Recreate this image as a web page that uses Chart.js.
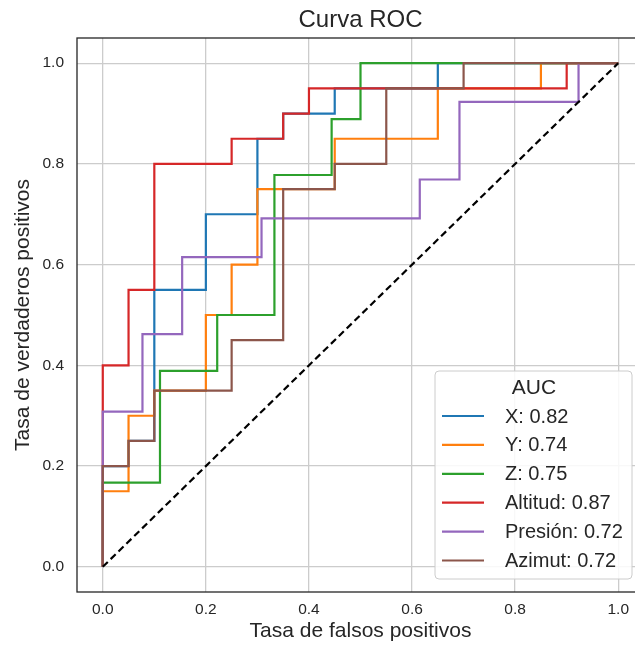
<!DOCTYPE html>
<html>
<head>
<meta charset="utf-8">
<script src="https://cdn.jsdelivr.net/npm/chart.js@4"></script>
<style>
  html, body { margin: 0; padding: 0; overflow: hidden; background: #fff; }
</style>
</head>
<body>
<canvas id="myChart" width="650" height="645"></canvas>
<script>
// ROC points (fpr, tpr)
var fprX = [0, 0, 0.05, 0.05, 0.1, 0.1, 0.2, 0.2, 0.3, 0.3, 0.35, 0.35, 0.45, 0.45, 0.65, 0.65, 1];
var tprX = [0, 0.2, 0.2, 0.25, 0.25, 0.55, 0.55, 0.7, 0.7, 0.85, 0.85, 0.9, 0.9, 0.95, 0.95, 1, 1];

var fprY = [0, 0, 0.05, 0.05, 0.1, 0.1, 0.2, 0.2, 0.25, 0.25, 0.3, 0.3, 0.45, 0.45, 0.65, 0.65, 0.85, 0.85, 1];
var tprY = [0, 0.15, 0.15, 0.3, 0.3, 0.35, 0.35, 0.5, 0.5, 0.6, 0.6, 0.75, 0.75, 0.85, 0.85, 0.95, 0.95, 1, 1];

var fprZ = [0, 0, 0.111, 0.111, 0.222, 0.222, 0.333, 0.333, 0.444, 0.444, 0.5, 0.5, 1];
var tprZ = [0, 0.167, 0.167, 0.389, 0.389, 0.5, 0.5, 0.778, 0.778, 0.889, 0.889, 1, 1];

var fprAltitud = [0, 0, 0.05, 0.05, 0.1, 0.1, 0.25, 0.25, 0.35, 0.35, 0.4, 0.4, 0.9, 0.9, 1];
var tprAltitud = [0, 0.4, 0.4, 0.55, 0.55, 0.8, 0.8, 0.85, 0.85, 0.9, 0.9, 0.95, 0.95, 1, 1];

var fprPresion = [0, 0, 0.077, 0.077, 0.154, 0.154, 0.308, 0.308, 0.615, 0.615, 0.692, 0.692, 0.923, 0.923, 1];
var tprPresion = [0, 0.308, 0.308, 0.462, 0.462, 0.615, 0.615, 0.692, 0.692, 0.769, 0.769, 0.923, 0.923, 1, 1];

var fprAzimut = [0, 0, 0.05, 0.05, 0.1, 0.1, 0.25, 0.25, 0.35, 0.35, 0.45, 0.45, 0.55, 0.55, 0.7, 0.7, 1];
var tprAzimut = [0, 0.2, 0.2, 0.25, 0.25, 0.35, 0.35, 0.45, 0.45, 0.75, 0.75, 0.8, 0.8, 0.95, 0.95, 1, 1];

var seriesNames = ['X', 'Y', 'Z', 'Altitud', 'Presión', 'Azimut'];
var aucValues = [0.82, 0.74, 0.75, 0.87, 0.72, 0.72];
var tickVals = [0, 0.2, 0.4, 0.6, 0.8, 1.0];
var diagX = [0, 1];
var diagY = [0, 1];

var colors = ['#1f77b4', '#ff7f0e', '#2ca02c', '#d62728', '#9467bd', '#8c564b'];
var fprs = [fprX, fprY, fprZ, fprAltitud, fprPresion, fprAzimut];
var tprs = [tprX, tprY, tprZ, tprAltitud, tprPresion, tprAzimut];

function toPoints(xs, ys) {
  return xs.map(function (x, i) { return { x: x, y: ys[i] }; });
}

var textColor = '#262626';
var fontFamily = "'Liberation Sans', Arial, sans-serif";
Chart.defaults.font.family = fontFamily;
Chart.defaults.color = textColor;

var datasets = seriesNames.map(function (name, i) {
  return {
    label: name + ': ' + aucValues[i].toFixed(2),
    data: toPoints(fprs[i], tprs[i]),
    borderColor: colors[i],
    borderWidth: 2.2,
    showLine: true,
    pointRadius: 0,
    fill: false,
    order: 10 - i // later series drawn on top, like matplotlib
  };
});
datasets.push({
  label: 'diag',
  data: toPoints(diagX, diagY),
  borderColor: '#000',
  borderWidth: 2.2,
  borderDash: [7, 4],
  showLine: true,
  pointRadius: 0,
  order: 0
});

// title, frame and legend box drawn by hand
var extras = {
  id: 'extras',
  afterDatasetsDraw: function (chart) {
    var ctx = chart.ctx, a = chart.chartArea;
    ctx.save();
    ctx.strokeStyle = '#262626';
    ctx.lineWidth = 1.3;
    ctx.strokeRect(a.left, a.top, a.right - a.left, a.bottom - a.top);

    ctx.fillStyle = textColor;
    ctx.font = '24px ' + fontFamily;
    ctx.textAlign = 'center';
    ctx.textBaseline = 'middle';
    ctx.fillText('Curva ROC', (a.left + a.right) / 2, 20);

    // legend, lower right
    var bx = a.right - 209, by = a.bottom - 221, bw = 197, bh = 208;
    ctx.beginPath();
    ctx.roundRect(bx, by, bw, bh, 4);
    ctx.fillStyle = 'rgba(255,255,255,0.85)';
    ctx.fill();
    ctx.strokeStyle = '#cccccc';
    ctx.lineWidth = 1;
    ctx.stroke();

    ctx.fillStyle = textColor;
    ctx.font = '21px ' + fontFamily;
    ctx.textAlign = 'center';
    ctx.fillText('AUC', bx + 99, by + 17);

    ctx.font = '20px ' + fontFamily;
    ctx.textAlign = 'left';
    chart.data.datasets.slice(0, seriesNames.length).forEach(function (ds, i) {
      var y = by + 45 + i * 28.9;
      ctx.beginPath();
      ctx.moveTo(bx + 7, y);
      ctx.lineTo(bx + 49, y);
      ctx.strokeStyle = ds.borderColor;
      ctx.lineWidth = 2.2;
      ctx.stroke();
      ctx.fillStyle = textColor;
      ctx.fillText(ds.label, bx + 70, y + 1);
    });
    ctx.restore();
  }
};

var ctx = document.getElementById('myChart').getContext('2d');
var chart = new Chart(ctx, {
  type: 'scatter',
  data: { datasets: datasets },
  plugins: [extras],
  options: {
    responsive: false,
    animation: false,
    layout: {
      padding: { top: 38, right: 6, left: 0, bottom: 0 }
    },
    plugins: {
      legend: { display: false },
      tooltip: { enabled: false }
    },
    scales: {
      x: {
        type: 'linear',
        min: -0.05,
        max: 1.05,
        afterBuildTicks: function (s) { s.ticks = tickVals.map(function (v) { return { value: v }; }); },
        afterFit: function (s) { s.height = 53; },
        ticks: {
          padding: 8,
          font: { size: 15.5 },
          color: textColor,
          callback: function (v) { return v.toFixed(1); }
        },
        grid: { color: '#cccccc', lineWidth: 1.3, drawTicks: false },
        border: { display: false },
        title: {
          display: true,
          text: 'Tasa de falsos positivos',
          font: { size: 21 },
          color: textColor,
          padding: { top: 0, bottom: 1 }
        }
      },
      y: {
        type: 'linear',
        min: -0.05,
        max: 1.05,
        afterBuildTicks: function (s) { s.ticks = tickVals.map(function (v) { return { value: v }; }); },
        afterFit: function (s) { s.width = 77; },
        ticks: {
          padding: 13,
          font: { size: 15.5 },
          color: textColor,
          callback: function (v) { return v.toFixed(1); }
        },
        grid: { color: '#cccccc', lineWidth: 1.3, drawTicks: false },
        border: { display: false },
        title: {
          display: true,
          text: 'Tasa de verdaderos positivos',
          font: { size: 21 },
          color: textColor,
          padding: { top: 11, bottom: 0 }
        }
      }
    }
  }
});
</script>
</body>
</html>
